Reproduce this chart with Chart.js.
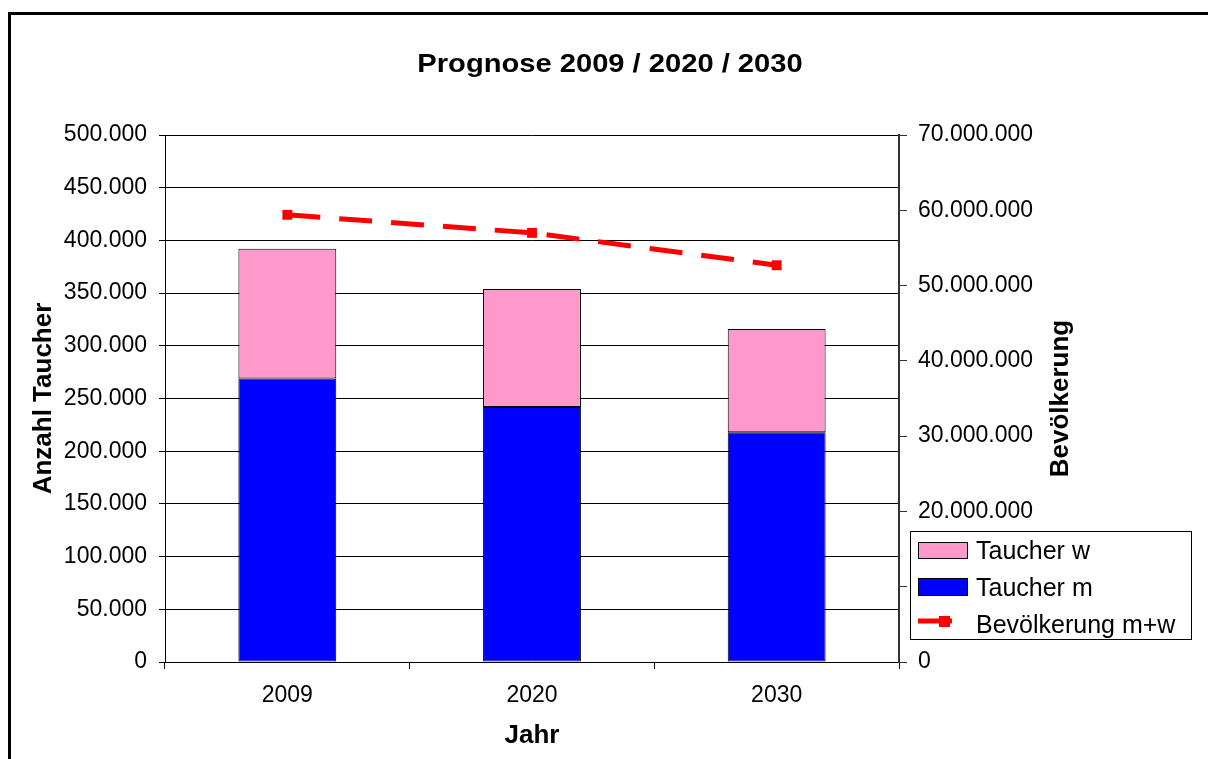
<!DOCTYPE html>
<html>
<head>
<meta charset="utf-8">
<script src="https://cdn.jsdelivr.net/npm/chart.js@4/dist/chart.umd.min.js"></script>
<style>
  html, body { margin: 0; padding: 0; background: #fff; }
  #wrap { width: 1208px; height: 759px; position: relative; }
</style>
</head>
<body>
<div id="wrap"><canvas id="c" width="1208" height="759"></canvas></div>
<script>
// ---- data ----
const chartTitle = 'Prognose 2009 / 2020 / 2030';
const categories = ['2009', '2020', '2030'];
const taucherM = [269000, 242000, 218000];
const taucherW = [123000, 112000, 98000];
const bevoelkerung = [59400000, 57000000, 52700000];
const leftAxisTitle = 'Anzahl Taucher';
const rightAxisTitle = 'Bevölkerung';
const xAxisTitle = 'Jahr';
const seriesNames = ['Taucher m', 'Taucher w', 'Bevölkerung m+w'];

const FONT = '"Liberation Sans", Arial, sans-serif';
Chart.defaults.font.family = FONT;
Chart.defaults.color = '#000';

function fmt(v) {
  return String(Math.round(v)).replace(/\B(?=(\d{3})+(?!\d))/g, '.');
}

const deco = {
  id: 'deco',
  beforeDraw(chart) {
    const ctx = chart.ctx;
    ctx.save();
    ctx.fillStyle = '#fff';
    ctx.fillRect(0, 0, chart.width, chart.height);
    ctx.restore();
  },
  afterDraw(chart) {
    const ctx = chart.ctx;
    const a = chart.chartArea;
    const cy = (a.top + a.bottom) / 2;
    ctx.save();
    // frame
    ctx.fillStyle = '#000';
    ctx.fillRect(8, 12, 1200, 3);
    ctx.fillRect(8, 12, 3, 747);
    // title
    ctx.fillStyle = '#000';
    ctx.textAlign = 'center';
    ctx.textBaseline = 'alphabetic';
    ctx.font = 'bold 26px ' + FONT;
    ctx.save();
    ctx.translate(610, 72);
    ctx.scale(1.12, 1);
    ctx.fillText(chartTitle, 0, 0);
    ctx.restore();
    // left axis title
    ctx.save();
    ctx.translate(51, cy);
    ctx.rotate(-Math.PI / 2);
    ctx.fillText(leftAxisTitle, 0, 0);
    ctx.restore();
    // right axis title
    ctx.save();
    ctx.translate(1068, cy);
    ctx.rotate(-Math.PI / 2);
    ctx.fillText(rightAxisTitle, 0, 0);
    ctx.restore();
    // x axis title
    ctx.fillText(xAxisTitle, (a.left + a.right) / 2, 743);

    // legend
    const ds = chart.data.datasets;
    ctx.fillStyle = '#fff';
    ctx.fillRect(910.5, 531.5, 281, 108);
    ctx.strokeStyle = '#000';
    ctx.lineWidth = 1;
    ctx.strokeRect(910.5, 531.5, 281, 108);
    // pink swatch (Taucher w)
    ctx.fillStyle = ds[1].backgroundColor;
    ctx.fillRect(918.5, 542.5, 49, 16);
    ctx.strokeRect(918.5, 542.5, 49, 16);
    // blue swatch (Taucher m)
    ctx.fillStyle = ds[0].backgroundColor;
    ctx.fillRect(918.5, 578.5, 49, 17);
    ctx.strokeRect(918.5, 578.5, 49, 17);
    // line swatch
    ctx.strokeStyle = ds[2].borderColor;
    ctx.lineWidth = 5;
    ctx.beginPath();
    ctx.moveTo(918, 621);
    ctx.lineTo(952, 621);
    ctx.stroke();
    ctx.fillStyle = ds[2].borderColor;
    ctx.fillRect(939, 616, 11, 11);
    // texts
    ctx.fillStyle = '#000';
    ctx.textAlign = 'left';
    ctx.font = '25px ' + FONT;
    ctx.fillText(ds[1].label, 976, 559);
    ctx.fillText(ds[0].label, 976, 596);
    ctx.fillText(ds[2].label, 976, 633);
    ctx.restore();
  }
};

new Chart(document.getElementById('c'), {
  type: 'bar',
  data: {
    labels: categories,
    datasets: [
      {
        label: seriesNames[0],
        data: taucherM,
        backgroundColor: '#0000FF',
        borderColor: '#000',
        borderWidth: 1,
        borderSkipped: false,
        yAxisID: 'y',
        stack: 's',
        order: 2,
        barPercentage: 0.4,
        categoryPercentage: 1.0
      },
      {
        label: seriesNames[1],
        data: taucherW,
        backgroundColor: '#FF99CC',
        borderColor: '#000',
        borderWidth: 1,
        borderSkipped: false,
        yAxisID: 'y',
        stack: 's',
        order: 2,
        barPercentage: 0.4,
        categoryPercentage: 1.0
      },
      {
        type: 'line',
        label: seriesNames[2],
        data: bevoelkerung,
        yAxisID: 'y1',
        borderColor: '#FF0000',
        backgroundColor: '#FF0000',
        borderWidth: 5,
        borderDash: [33, 19],
        tension: 0,
        fill: false,
        pointStyle: 'rect',
        pointRadius: 7,
        pointBorderWidth: 0,
        pointBackgroundColor: '#FF0000',
        order: 0
      }
    ]
  },
  plugins: [deco],
  options: {
    responsive: false,
    animation: false,
    layout: { padding: { top: 135, left: 0, right: 0, bottom: 0 } },
    plugins: {
      legend: { display: false },
      tooltip: { enabled: false },
      title: { display: false }
    },
    scales: {
      x: {
        stacked: true,
        offset: true,
        grid: {
          offset: true,
          drawOnChartArea: false,
          drawTicks: true,
          tickLength: 7,
          color: '#000',
          lineWidth: 1
        },
        border: { color: '#000', width: 1 },
        ticks: { font: { size: 23 }, color: '#000', padding: 13, maxRotation: 0 },
        afterFit(scale) { scale.height = 97; }
      },
      y: {
        stacked: true,
        position: 'left',
        min: 0,
        max: 500000,
        grid: { color: '#000', lineWidth: 1, tickLength: 6 },
        border: { color: '#000', width: 1 },
        ticks: {
          stepSize: 50000,
          font: { size: 23 },
          color: '#000',
          padding: 12,
          callback: v => fmt(v)
        },
        afterFit(scale) { scale.width = 165; }
      },
      y1: {
        position: 'right',
        min: 0,
        max: 70000000,
        grid: { drawOnChartArea: false, color: '#333', lineWidth: 1, tickLength: 8 },
        border: { color: '#333', width: 2 },
        ticks: {
          stepSize: 10000000,
          font: { size: 23 },
          color: '#000',
          padding: 11,
          callback: v => fmt(v)
        },
        afterFit(scale) { scale.width = 309; }
      }
    }
  }
});
</script>
</body>
</html>
